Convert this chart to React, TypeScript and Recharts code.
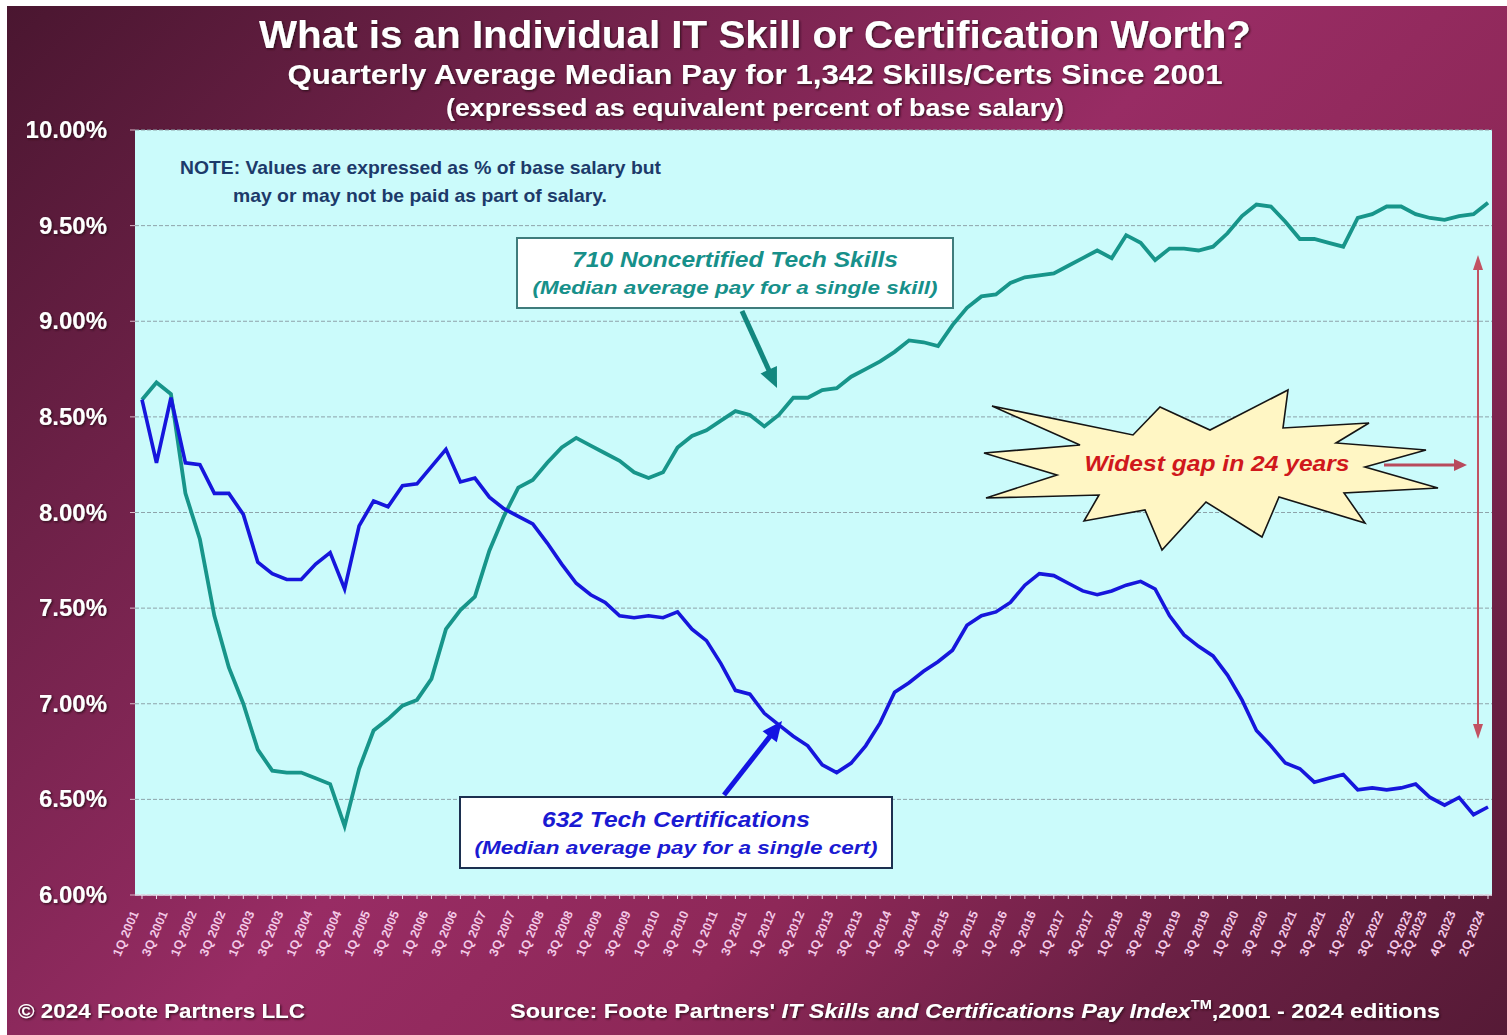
import { LineChart, Line, XAxis, YAxis, CartesianGrid } from "recharts";

const quarters = [
  "1Q 2001", "2Q 2001", "3Q 2001", "4Q 2001",
  "1Q 2002", "2Q 2002", "3Q 2002", "4Q 2002",
  "1Q 2003", "2Q 2003", "3Q 2003", "4Q 2003",
  "1Q 2004", "2Q 2004", "3Q 2004", "4Q 2004",
  "1Q 2005", "2Q 2005", "3Q 2005", "4Q 2005",
  "1Q 2006", "2Q 2006", "3Q 2006", "4Q 2006",
  "1Q 2007", "2Q 2007", "3Q 2007", "4Q 2007",
  "1Q 2008", "2Q 2008", "3Q 2008", "4Q 2008",
  "1Q 2009", "2Q 2009", "3Q 2009", "4Q 2009",
  "1Q 2010", "2Q 2010", "3Q 2010", "4Q 2010",
  "1Q 2011", "2Q 2011", "3Q 2011", "4Q 2011",
  "1Q 2012", "2Q 2012", "3Q 2012", "4Q 2012",
  "1Q 2013", "2Q 2013", "3Q 2013", "4Q 2013",
  "1Q 2014", "2Q 2014", "3Q 2014", "4Q 2014",
  "1Q 2015", "2Q 2015", "3Q 2015", "4Q 2015",
  "1Q 2016", "2Q 2016", "3Q 2016", "4Q 2016",
  "1Q 2017", "2Q 2017", "3Q 2017", "4Q 2017",
  "1Q 2018", "2Q 2018", "3Q 2018", "4Q 2018",
  "1Q 2019", "2Q 2019", "3Q 2019", "4Q 2019",
  "1Q 2020", "2Q 2020", "3Q 2020", "4Q 2020",
  "1Q 2021", "2Q 2021", "3Q 2021", "4Q 2021",
  "1Q 2022", "2Q 2022", "3Q 2022", "4Q 2022",
  "1Q 2023", "2Q 2023", "3Q 2023", "4Q 2023",
  "1Q 2024", "2Q 2024",
];

// labels printed under the axis (every other quarter, irregular at the end)
const shownTicks = [
  "1Q 2001", "3Q 2001", "1Q 2002", "3Q 2002", "1Q 2003", "3Q 2003",
  "1Q 2004", "3Q 2004", "1Q 2005", "3Q 2005", "1Q 2006", "3Q 2006",
  "1Q 2007", "3Q 2007", "1Q 2008", "3Q 2008", "1Q 2009", "3Q 2009",
  "1Q 2010", "3Q 2010", "1Q 2011", "3Q 2011", "1Q 2012", "3Q 2012",
  "1Q 2013", "3Q 2013", "1Q 2014", "3Q 2014", "1Q 2015", "3Q 2015",
  "1Q 2016", "3Q 2016", "1Q 2017", "3Q 2017", "1Q 2018", "3Q 2018",
  "1Q 2019", "3Q 2019", "1Q 2020", "3Q 2020", "1Q 2021", "3Q 2021",
  "1Q 2022", "3Q 2022", "1Q 2023", "2Q 2023", "4Q 2023", "2Q 2024",
];

// 710 noncertified tech skills (% of base salary)
const noncertified = [
  8.59, 8.68, 8.62, 8.10, 7.86, 7.46, 7.19, 7.00, 6.76, 6.65,
  6.64, 6.64, 6.61, 6.58, 6.36, 6.66, 6.86, 6.92, 6.99, 7.02,
  7.13, 7.39, 7.49, 7.56, 7.80, 7.98, 8.13, 8.17, 8.26, 8.34,
  8.39, 8.35, 8.31, 8.27, 8.21, 8.18, 8.21, 8.34, 8.40, 8.43,
  8.48, 8.53, 8.51, 8.45, 8.51, 8.60, 8.60, 8.64, 8.65, 8.71,
  8.75, 8.79, 8.84, 8.90, 8.89, 8.87, 8.98, 9.07, 9.13, 9.14,
  9.20, 9.23, 9.24, 9.25, 9.29, 9.33, 9.37, 9.33, 9.45, 9.41,
  9.32, 9.38, 9.38, 9.37, 9.39, 9.46, 9.55, 9.61, 9.60, 9.52,
  9.43, 9.43, 9.41, 9.39, 9.54, 9.56, 9.60, 9.60, 9.56, 9.54,
  9.53, 9.55, 9.56, 9.62,
];

// 632 tech certifications (% of base salary)
const certified = [
  8.59, 8.26, 8.60, 8.26, 8.25, 8.10, 8.10, 7.99, 7.74, 7.68,
  7.65, 7.65, 7.73, 7.79, 7.60, 7.93, 8.06, 8.03, 8.14, 8.15,
  8.24, 8.33, 8.16, 8.18, 8.08, 8.02, 7.98, 7.94, 7.84, 7.73,
  7.63, 7.57, 7.53, 7.46, 7.45, 7.46, 7.45, 7.48, 7.39, 7.33,
  7.21, 7.07, 7.05, 6.95, 6.89, 6.83, 6.78, 6.68, 6.64, 6.69,
  6.78, 6.90, 7.06, 7.11, 7.17, 7.22, 7.28, 7.41, 7.46, 7.48,
  7.53, 7.62, 7.68, 7.67, 7.63, 7.59, 7.57, 7.59, 7.62, 7.64,
  7.60, 7.46, 7.36, 7.30, 7.25, 7.15, 7.02, 6.86, 6.78, 6.69,
  6.66, 6.59, 6.61, 6.63, 6.55, 6.56, 6.55, 6.56, 6.58, 6.51,
  6.47, 6.51, 6.42, 6.46,
];

const yTicks = [6, 6.5, 7, 7.5, 8, 8.5, 9, 9.5, 10];

const data = quarters.map((q, i) => ({
  q,
  noncert: noncertified[i],
  cert: certified[i],
}));

const FONT = '"Liberation Sans", Arial, Helvetica, sans-serif';

function XTick(props: any) {
  const { x, y, payload } = props;
  if (!shownTicks.includes(payload.value)) return null;
  const ax = x - 3;
  const ay = y + 12;
  return (
    <text
      x={ax}
      y={ay}
      transform={`rotate(-67 ${ax} ${ay})`}
      textAnchor="end"
      fontSize={12.5}
      fontWeight={700}
      fill="#f3c8e6"
      fontFamily={FONT}
    >
      {payload.value}
    </text>
  );
}

function YTick(props: any) {
  const { x, y, payload } = props;
  return (
    <text
      x={x}
      y={y}
      dy={8}
      textAnchor="end"
      fontSize={24}
      fontWeight={700}
      fill="#ffffff"
      fontFamily={FONT}
      filter="url(#txtShadow)"
    >
      {payload.value.toFixed(2)}%
    </text>
  );
}

function Arrow({
  x1, y1, x2, y2, color, width, head, headW, both,
}: {
  x1: number; y1: number; x2: number; y2: number;
  color: string; width: number; head: number; headW: number; both?: boolean;
}) {
  const len = Math.hypot(x2 - x1, y2 - y1);
  const ux = (x2 - x1) / len;
  const uy = (y2 - y1) / len;
  const px = -uy;
  const py = ux;
  const headPts = (tx: number, ty: number, dx: number, dy: number) => {
    const bx = tx - dx * head;
    const by = ty - dy * head;
    return `${tx},${ty} ${bx + px * headW},${by + py * headW} ${bx - px * headW},${by - py * headW}`;
  };
  const sx = both ? x1 + ux * head * 0.8 : x1;
  const sy = both ? y1 + uy * head * 0.8 : y1;
  return (
    <g>
      <line
        x1={sx}
        y1={sy}
        x2={x2 - ux * head * 0.8}
        y2={y2 - uy * head * 0.8}
        stroke={color}
        strokeWidth={width}
      />
      <polygon points={headPts(x2, y2, ux, uy)} fill={color} />
      {both && <polygon points={headPts(x1, y1, -ux, -uy)} fill={color} />}
    </g>
  );
}

const starPoints = [
  [992, 406], [1080, 445], [984, 453], [1057, 475], [986, 498], [1099, 495],
  [1084, 521], [1145, 510], [1162, 550], [1206, 502], [1262, 537], [1279, 497],
  [1365, 523], [1344, 493], [1438, 488], [1365, 467], [1426, 450], [1336, 443],
  [1369, 423], [1283, 428], [1288, 390], [1210, 430], [1160, 407], [1133, 435],
]
  .map((p) => p.join(","))
  .join(" ");

function Overlay() {
  return (
    <svg
      width={1507}
      height={1035}
      style={{ position: "absolute", left: 0, top: 0, pointerEvents: "none" }}
      fontFamily={FONT}
    >
      <defs>
        <filter id="txtShadow" x="-10%" y="-30%" width="120%" height="160%">
          <feDropShadow dx="1.2" dy="1.2" stdDeviation="1.2" floodColor="#2a0a18" floodOpacity="0.9" />
        </filter>
      </defs>

      {/* titles */}
      <g fill="#ffffff" fontWeight={700} textAnchor="middle" filter="url(#txtShadow)">
        <text x={755} y={48} fontSize={38} textLength={992} lengthAdjust="spacingAndGlyphs">
          What is an Individual IT Skill or Certification Worth?
        </text>
        <text x={755} y={84} fontSize={27} textLength={935} lengthAdjust="spacingAndGlyphs">
          Quarterly Average Median Pay for 1,342 Skills/Certs Since 2001
        </text>
        <text x={755} y={116} fontSize={23} textLength={618} lengthAdjust="spacingAndGlyphs">
          (expressed as equivalent percent of base salary)
        </text>
      </g>

      {/* note */}
      <g fill="#1c3a6a" fontWeight={700} fontSize={19}>
        <text x={180} y={174} textLength={481} lengthAdjust="spacingAndGlyphs">
          NOTE: Values are expressed as % of base salary but
        </text>
        <text x={233} y={202} textLength={374} lengthAdjust="spacingAndGlyphs">
          may or may not be paid as part of salary.
        </text>
      </g>

      {/* noncertified label box */}
      <rect x={517} y={238} width={436} height={70} fill="#ffffff" stroke="#3f7c7c" strokeWidth={2} />
      <g fill="#17908a" fontWeight={700} fontStyle="italic" textAnchor="middle">
        <text x={735} y={267} fontSize={22} textLength={326} lengthAdjust="spacingAndGlyphs">
          710 Noncertified Tech Skills
        </text>
        <text x={735} y={294} fontSize={19} textLength={405} lengthAdjust="spacingAndGlyphs">
          (Median average pay for a single skill)
        </text>
      </g>
      <Arrow x1={742} y1={311} x2={777} y2={388} color="#12877f" width={5} head={20} headW={9} />

      {/* certifications label box */}
      <rect x={460} y={797} width={432} height={71} fill="#ffffff" stroke="#1c3050" strokeWidth={2} />
      <g fill="#1a1ad2" fontWeight={700} fontStyle="italic" textAnchor="middle">
        <text x={676} y={827} fontSize={22} textLength={268} lengthAdjust="spacingAndGlyphs">
          632 Tech Certifications
        </text>
        <text x={676} y={854} fontSize={19} textLength={403} lengthAdjust="spacingAndGlyphs">
          (Median average pay for a single cert)
        </text>
      </g>
      <Arrow x1={724} y1={795} x2={782} y2={721} color="#1414e2" width={5} head={20} headW={9} />

      {/* widest gap callout */}
      <polygon points={starPoints} fill="#fff6c4" stroke="#151515" strokeWidth={1.6} strokeLinejoin="miter" />
      <text
        x={1217}
        y={471}
        fontSize={22}
        fontWeight={700}
        fontStyle="italic"
        fill="#d0181c"
        textAnchor="middle"
        textLength={265}
        lengthAdjust="spacingAndGlyphs"
      >
        Widest gap in 24 years
      </text>
      <Arrow x1={1384} y1={465} x2={1467} y2={465} color="#b84a5c" width={3} head={13} headW={6} />
      <Arrow x1={1478} y1={739} x2={1478} y2={255} color="#c25262" width={2} head={15} headW={5} both />

      {/* footer */}
      <g fill="#ffffff" fontWeight={700} fontSize={21} filter="url(#txtShadow)">
        <text x={18} y={1018} textLength={287} lengthAdjust="spacingAndGlyphs">
          © 2024 Foote Partners LLC
        </text>
        <text x={510} y={1018} textLength={930} lengthAdjust="spacingAndGlyphs">
          Source: Foote Partners'{" "}
          <tspan fontStyle="italic">IT Skills and Certifications Pay Index</tspan>
          <tspan fontSize={13} dy={-9}>TM</tspan>
          <tspan dy={9}>,2001 - 2024 editions</tspan>
        </text>
      </g>
    </svg>
  );
}

export default function App() {
  return (
    <div style={{ position: "relative", width: 1507, height: 1035, background: "#ffffff", overflow: "hidden" }}>
      <style>{"body{margin:0;overflow:hidden}"}</style>
      <div
        style={{
          position: "absolute",
          left: 7,
          top: 6,
          width: 1500,
          height: 1029,
          background:
            "linear-gradient(135deg, #4a1630 0%, #6e2148 22%, #982c64 48%, #8e2858 66%, #6a2044 84%, #561a36 100%)",
        }}
      />
      <div style={{ position: "absolute", left: 0, top: 0 }}>
        <LineChart
          width={1507}
          height={1035}
          data={data}
          margin={{ top: 130, right: 15, bottom: 110, left: 35 }}
        >
          <CartesianGrid
            vertical={false}
            fill="#cbfbfb"
            fillOpacity={1}
            stroke="#8ea3aa"
            strokeDasharray="4 2"
          />
          <XAxis
            dataKey="q"
            interval={0}
            height={30}
            padding={{ left: 7, right: 4 }}
            tick={<XTick />}
            tickSize={4}
            tickMargin={2}
            tickLine={{ stroke: "#eadcec" }}
            axisLine={{ stroke: "#e6dcea", strokeWidth: 1.5 }}
          />
          <YAxis
            width={100}
            domain={[6, 10]}
            ticks={yTicks}
            interval={0}
            tick={<YTick />}
            tickSize={5}
            tickMargin={23}
            tickLine={{ stroke: "#d8b8c8" }}
            axisLine={false}
          />
          <Line
            type="linear"
            dataKey="noncert"
            stroke="#17958a"
            strokeWidth={3.8}
            dot={false}
            isAnimationActive={false}
          />
          <Line
            type="linear"
            dataKey="cert"
            stroke="#1616dc"
            strokeWidth={3.6}
            dot={false}
            isAnimationActive={false}
          />
        </LineChart>
      </div>
      <Overlay />
    </div>
  );
}
